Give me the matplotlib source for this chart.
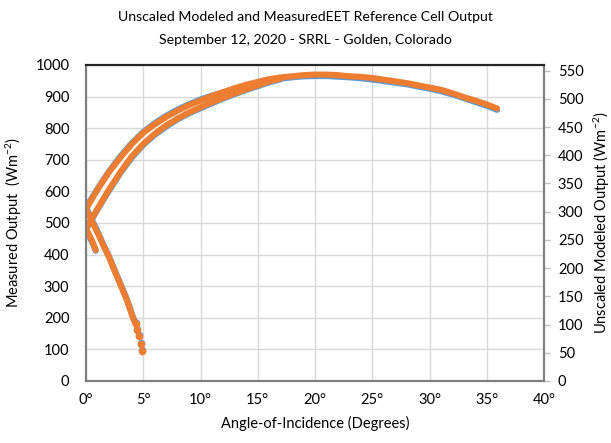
import numpy as np
import matplotlib
matplotlib.use("Agg")
import matplotlib.pyplot as plt

plt.rcParams['font.family'] = ['Lato', 'DejaVu Sans']
plt.rcParams['mathtext.fontset'] = 'custom'
plt.rcParams['mathtext.rm'] = 'Lato'
plt.rcParams['mathtext.default'] = 'regular'

# ---- data (angle in degrees) ----
# measured output (left axis, W/m2), modeled output (right axis, unscaled W/m2)
upper_deg = [0, 1, 2, 3, 4, 5, 6, 7, 8, 9, 10, 11, 12, 13, 14, 15, 16, 17, 18, 19,
             20, 21, 22, 23, 24, 25, 26, 27, 28, 29, 30, 31, 32, 33, 34, 35, 35.9]
upper_meas = [548, 608, 663, 711, 753, 788, 816, 839, 859, 876, 891, 903, 913, 923, 934, 943, 951, 957, 961, 964,
              965, 965, 963, 961, 958, 954, 949, 944, 939, 932, 925, 917, 907, 895, 883, 871, 858]
upper_model = [305, 339, 370, 396, 420, 440, 455, 468, 479, 489, 497, 505, 512, 519, 525, 530, 535, 538, 540, 542,
               543, 543, 542, 540, 539, 537, 534, 531, 528, 524, 520, 516, 510, 503, 497, 490, 483]

lower_deg = [0, 1, 2, 3, 4, 5, 6, 7, 8, 9, 10, 11, 12, 13, 14, 15, 16, 17]
lower_meas = [480, 542, 602, 658, 707, 747, 779, 805, 828, 847, 863, 879, 894, 908, 921, 933, 945, 955]
lower_model = [270, 305, 339, 370, 398, 420, 438, 453, 465, 476, 485, 494, 502, 510, 517, 524, 531, 536]

short_deg = [0.0, 0.3, 0.6, 0.85]
short_meas = [480, 457, 434, 412]
short_model = [270, 258, 245, 232]

desc_deg = [0.0, 0.4, 1.0, 1.5, 2.0, 2.4, 3.0, 3.5, 3.8, 4.1, 4.34, 4.48, 4.66, 4.78, 4.92]
desc_meas = [549, 519, 474, 433, 395, 360, 308, 265, 235, 203, 183, 163, 144, 119, 97]
desc_model = [305, 288, 263, 241, 220, 200, 171, 147, 130, 112, 101, 90, 80, 66, 53]

x_ticks = [0, 5, 10, 15, 20, 25, 30, 35, 40]
left_ticks = list(range(0, 1001, 100))
right_ticks = list(range(0, 551, 50))

blue = '#5b9bd5'
orange = '#ed7d31'
lw = 4.4

fig = plt.figure(figsize=(6.11, 4.43), dpi=100)
ax = fig.add_axes([86 / 611, 1 - 381 / 443, (544 - 86) / 611, (381 - 65) / 443])
ax2 = ax.twinx()

line_kw = dict(lw=lw, solid_capstyle='round', solid_joinstyle='round')
n_line = 11  # descending branch breaks into single dots after this point

for d, m in [(upper_deg, upper_meas), (lower_deg, lower_meas), (short_deg, short_meas)]:
    ax.plot(d, m, color=blue, **line_kw)
ax.plot(desc_deg[:n_line], desc_meas[:n_line], color=blue, **line_kw)
ax.plot(desc_deg[n_line - 1:], desc_meas[n_line - 1:], 'o', color=blue, ms=5.5, mew=0)

for d, m in [(upper_deg, upper_model), (lower_deg, lower_model), (short_deg, short_model)]:
    ax2.plot(d, m, color=orange, **line_kw)
ax2.plot(desc_deg[:n_line], desc_model[:n_line], color=orange, **line_kw)
ax2.plot(desc_deg[n_line - 1:], desc_model[n_line - 1:], 'o', color=orange, ms=5.5, mew=0)

ax.set_xlim(0, 40)
ax.set_ylim(0, 1000)
ax2.set_ylim(0, 560)

ax.set_xticks(x_ticks)
ax.set_xticklabels([f"{t}\u00b0" for t in x_ticks])
ax.set_yticks(left_ticks)
ax2.set_yticks(right_ticks)

ax.grid(True, color='#d9d9d9', lw=1)
ax.set_axisbelow(True)

ax.tick_params(axis='x', length=0, pad=9, labelsize=10.5, colors='#000000')
ax.tick_params(axis='y', length=0, pad=12, labelsize=10.5)
ax2.tick_params(axis='y', length=4, width=1, color='#bfbfbf', pad=6, labelsize=10.5)

for a in (ax, ax2):
    for s in ['left', 'right', 'bottom']:
        a.spines[s].set_color('#7f7f7f')
        a.spines[s].set_linewidth(1.5)
    a.spines['top'].set_color('#262626')
    a.spines['top'].set_linewidth(1.5)

ax.set_xlabel("Angle-of-Incidence (Degrees)", fontsize=10.5, labelpad=6)
ax.set_ylabel("Measured Output  (Wm$^{-2}$)", fontsize=10.5, labelpad=8)
ax2.set_ylabel("Unscaled Modeled Output (Wm$^{-2}$)", fontsize=10.5, labelpad=6)

fig.text(0.5, 1 - 17 / 443, "Unscaled Modeled and MeasuredEET Reference Cell Output",
         ha='center', va='center', fontsize=10.2)
fig.text(0.5, 1 - 40 / 443, "September 12, 2020 - SRRL - Golden, Colorado",
         ha='center', va='center', fontsize=10.2)

fig.savefig("out.png", dpi=100)
